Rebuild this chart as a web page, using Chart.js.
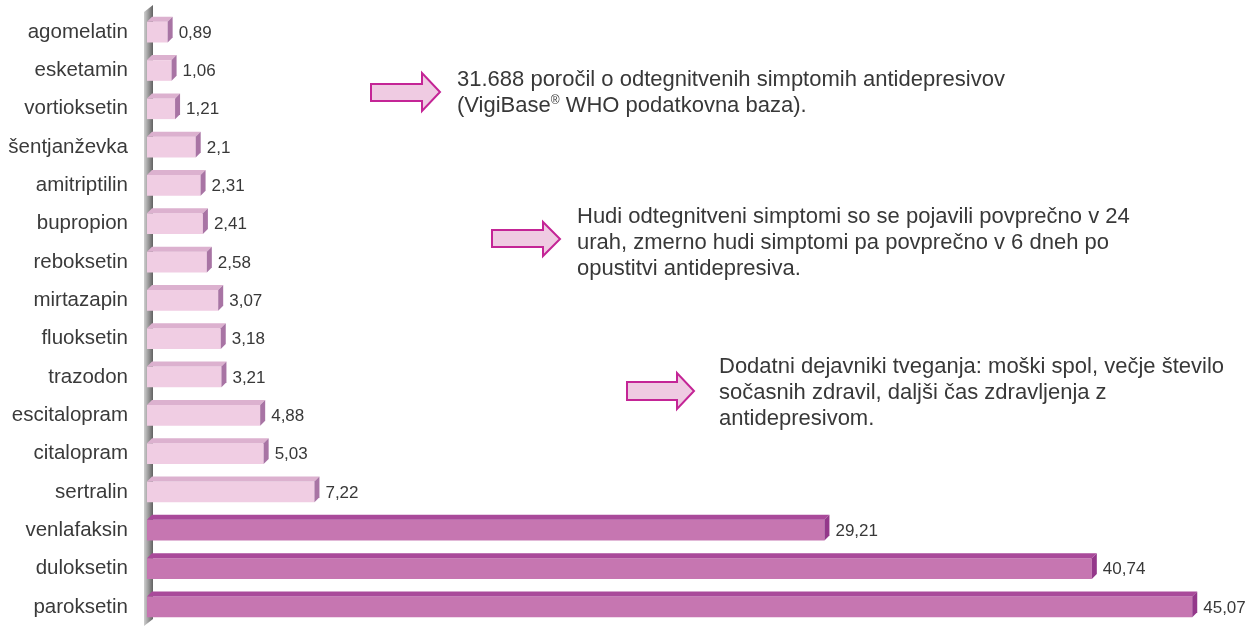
<!DOCTYPE html>
<html lang="sl">
<head>
  <meta charset="UTF-8" />
  <title>Odtegnitveni simptomi antidepresivov</title>
  <script src="https://cdn.jsdelivr.net/npm/chart.js"></script>
  <style>
    body {
      margin: 0;
      background: #fff;
      font-family: "Liberation Sans", Arial, sans-serif;
      color: #333;
      overflow: hidden;
    }
    .wrap {
      position: relative;
      width: 1257px;
      height: 626px;
    }
    .note {
      position: absolute;
      font-size: 22px;
      line-height: 26px;
      color: #383838;
      white-space: nowrap;
    }
    .note sup {
      font-size: 12px;
      line-height: 0;
      vertical-align: 8px;
    }
    .arrow {
      position: absolute;
    }
  </style>
</head>
<body>
  <div class="wrap">
    <canvas id="barChart" width="1257" height="626"></canvas>

    <svg class="arrow" style="left:368px;top:70px" width="76" height="46">
      <polygon points="3,14 54,14 54,3 72,22 54,41 54,31 3,31" fill="#efcbe2" stroke="#c42596" stroke-width="2" />
    </svg>
    <div class="note" style="left:457px;top:66px">31.688 poročil o odtegnitvenih simptomih antidepresivov<br>(VigiBase<sup>®</sup> WHO podatkovna baza).</div>

    <svg class="arrow" style="left:489px;top:219px" width="76" height="42">
      <polygon points="3,11 54,11 54,3 71,20 54,37 54,28 3,28" fill="#efcbe2" stroke="#c42596" stroke-width="2" />
    </svg>
    <div class="note" style="left:577px;top:203px">Hudi odtegnitveni simptomi so se pojavili povprečno v 24<br>urah, zmerno hudi simptomi pa povprečno v 6 dneh po<br>opustitvi antidepresiva.</div>

    <svg class="arrow" style="left:624px;top:370px" width="76" height="42">
      <polygon points="3,12 53,12 53,3 70,21 53,39 53,30 3,30" fill="#efcbe2" stroke="#c42596" stroke-width="2" />
    </svg>
    <div class="note" style="left:719px;top:353px">Dodatni dejavniki tveganja: moški spol, večje število<br>sočasnih zdravil, daljši čas zdravljenja z<br>antidepresivom.</div>
  </div>

  <script>
    const drugs = ["agomelatin","esketamin","vortioksetin","šentjanževka","amitriptilin","bupropion","reboksetin","mirtazapin","fluoksetin","trazodon","escitalopram","citalopram","sertralin","venlafaksin","duloksetin","paroksetin"];
    const reports = [0.89,1.06,1.21,2.1,2.31,2.41,2.58,3.07,3.18,3.21,4.88,5.03,7.22,29.21,40.74,45.07];
    const valueLabels = ["0,89","1,06","1,21","2,1","2,31","2,41","2,58","3,07","3,18","3,21","4,88","5,03","7,22","29,21","40,74","45,07"];

    const lightFront = "#f0cde3", lightTop = "#dcb1cf", lightSide = "#a874a4";
    const darkFront = "#c676b1", darkTop = "#a94a9a", darkSide = "#94388a";
    const isDark = (i) => reports[i] > 20;

    // grey wall behind the bars + 3D faces + value labels
    const bars3d = {
      id: "bars3d",
      beforeDatasetsDraw(chart) {
        const c = chart.ctx;
        const g = c.createLinearGradient(144, 0, 154, 0);
        g.addColorStop(0, "#cfcfcf");
        g.addColorStop(0.35, "#a5a5a5");
        g.addColorStop(1, "#555");
        c.save();
        c.fillStyle = g;
        c.beginPath();
        c.moveTo(144, 12);
        c.lineTo(153, 5);
        c.lineTo(153, 619);
        c.lineTo(144, 626);
        c.closePath();
        c.fill();
        c.restore();
      },
      afterDatasetsDraw(chart) {
        const c = chart.ctx;
        const d = 5;
        const meta = chart.getDatasetMeta(0);
        c.save();
        meta.data.forEach((bar, i) => {
          const top = bar.y - bar.height / 2, bot = bar.y + bar.height / 2;
          const x0 = bar.base, x1 = bar.x;
          c.fillStyle = isDark(i) ? darkTop : lightTop;
          c.beginPath();
          c.moveTo(x0, top); c.lineTo(x0 + d, top - d); c.lineTo(x1 + d, top - d); c.lineTo(x1, top);
          c.closePath(); c.fill();
          c.fillStyle = isDark(i) ? darkSide : lightSide;
          c.beginPath();
          c.moveTo(x1, top); c.lineTo(x1 + d, top - d); c.lineTo(x1 + d, bot - d); c.lineTo(x1, bot);
          c.closePath(); c.fill();
          c.fillStyle = "#383838";
          c.font = "17px 'Liberation Sans', Arial, sans-serif";
          c.textAlign = "left";
          c.textBaseline = "middle";
          c.fillText(valueLabels[i], x1 + d + 6, bar.y + 1);
        });
        c.restore();
      }
    };

    new Chart(document.getElementById("barChart"), {
      type: "bar",
      data: {
        labels: drugs,
        datasets: [{
          data: reports,
          backgroundColor: reports.map((v, i) => isDark(i) ? darkFront : lightFront),
          borderWidth: 0,
          barPercentage: 0.54,
          categoryPercentage: 1
        }]
      },
      options: {
        indexAxis: "y",
        responsive: false,
        animation: false,
        layout: { padding: { top: 13, right: 20, bottom: 0, left: 0 } },
        plugins: {
          legend: { display: false },
          tooltip: { enabled: false }
        },
        scales: {
          x: {
            display: false,
            min: 0,
            max: 47
          },
          y: {
            afterFit(scale) {
              scale.width = 147;
              scale.paddingTop = 0;
              scale.paddingBottom = 0;
            },
            grid: { display: false, drawTicks: false },
            border: { display: false },
            ticks: {
              padding: 19,
              color: "#3a3a3a",
              font: { family: "'Liberation Sans', Arial, sans-serif", size: 20.5 }
            }
          }
        }
      },
      plugins: [bars3d]
    });
  </script>
</body>
</html>
